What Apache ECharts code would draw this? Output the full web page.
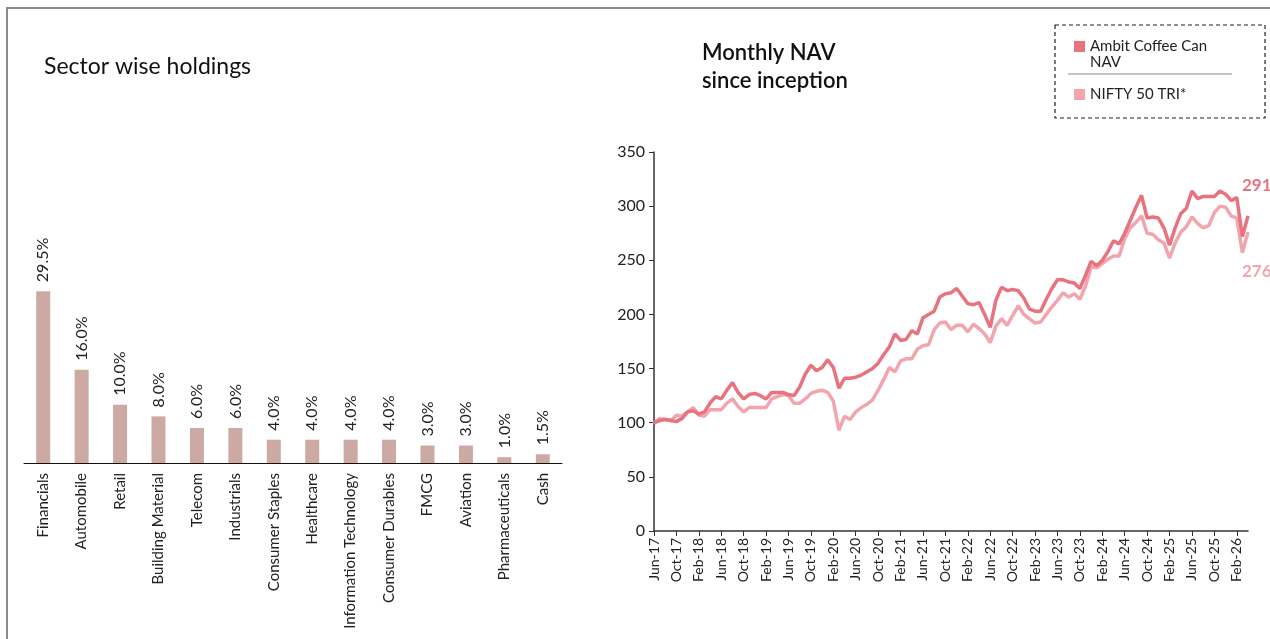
<!DOCTYPE html>
<html lang="en">
<head>
    <meta charset="UTF-8">
    <title>Sector holdings and NAV</title>
    <script src="https://cdn.jsdelivr.net/npm/echarts@6/dist/echarts.min.js"></script>
    <style>
        html, body { margin: 0; padding: 0; background: #fff; overflow: hidden; }
        #frame {
            position: absolute; left: 6px; top: 7px; width: 1300px; height: 700px;
            border-left: 2px solid #8c8c8c; border-top: 2px solid #8c8c8c;
        }
        #main { position: absolute; left: 0; top: 0; width: 1270px; height: 639px; }
    </style>
</head>
<body>
    <div id="frame"></div>
    <div id="main"></div>
    <script type="text/javascript">
        // sector wise holdings (%)
        var sectors = ['Financials', 'Automobile', 'Retail', 'Building Material', 'Telecom', 'Industrials',
            'Consumer Staples', 'Healthcare', 'Information Technology', 'Consumer Durables', 'FMCG',
            'Aviation', 'Pharmaceuticals', 'Cash'];
        var weights = [29.5, 16.0, 10.0, 8.0, 6.0, 6.0, 4.0, 4.0, 4.0, 4.0, 3.0, 3.0, 1.0, 1.5];

        // monthly NAV, Jun-17 .. Apr-26 (rebased to 100)
        var navFund = [100, 102, 103, 102, 101, 104, 110, 111, 108, 110, 118, 124, 122, 130, 137, 128, 122, 126, 127, 125,
            122, 128, 128, 128, 126, 125, 133, 145, 153, 148, 151, 158, 151, 132, 141, 141, 142, 144, 147, 150,
            155, 163, 170, 182, 176, 177, 185, 182, 197, 200, 203, 216, 219, 220, 224, 217, 210, 209, 211, 200,
            188, 213, 225, 222, 223, 222, 215, 205, 203, 203, 214, 224, 232, 232, 230, 229, 224, 236, 249, 245,
            250, 258, 268, 265, 275, 287, 299, 310, 289, 290, 289, 280, 264, 280, 293, 298, 314, 307, 309, 309,
            309, 314, 311, 305, 308, 272, 291];
        var navIndex = [99, 104, 103, 102, 107, 106, 110, 114, 107, 106, 112, 112, 112, 118, 122, 115, 110, 114, 114, 114,
            114, 122, 124, 126, 125, 118, 118, 122, 127, 129, 130, 128, 120, 93, 106, 103, 110, 114, 117, 121,
            130, 140, 151, 147, 157, 159, 159, 168, 171, 172, 186, 192, 193, 186, 190, 190, 184, 191, 187, 182,
            174, 189, 196, 190, 199, 208, 200, 196, 192, 193, 200, 207, 213, 220, 216, 219, 214, 226, 244, 243,
            247, 251, 254, 254, 270, 280, 285, 291, 275, 274, 269, 266, 252, 266, 276, 281, 290, 284, 280, 282,
            294, 300, 299, 291, 289, 257, 276];

        var monthNames = ['Jan', 'Feb', 'Mar', 'Apr', 'May', 'Jun', 'Jul', 'Aug', 'Sep', 'Oct', 'Nov', 'Dec'];
        var months = [];
        for (var i = 0; i < navFund.length; i++) {
            var m = 5 + i;
            months.push(monthNames[m % 12] + '-' + (17 + Math.floor(m / 12)));
        }

        var fundColor = '#e8737f';
        var indexColor = '#f2a5ad';
        var font = 'Lato, "Noto Sans", sans-serif';

        var myChart = echarts.init(document.getElementById('main'));
        myChart.setOption({
            textStyle: { fontFamily: font },
            animation: false,
            title: [{
                text: 'Sector wise holdings',
                left: 39, top: 50,
                textStyle: { fontSize: 23, fontWeight: 'normal', color: '#111', fontFamily: font }
            }, {
                text: 'Monthly NAV\nsince inception',
                left: 697, top: 34,
                textStyle: { fontSize: 22, fontWeight: 600, color: '#111', lineHeight: 28, fontFamily: font }
            }],
            legend: [{
                left: 1069, top: 34,
                itemWidth: 11, itemHeight: 11,
                icon: 'rect',
                data: ['Ambit Coffee Can NAV'],
                formatter: function () { return 'Ambit Coffee Can'; },
                textStyle: { fontSize: 15, color: '#222', fontFamily: font }
            }, {
                left: 1069, top: 82,
                itemWidth: 11, itemHeight: 11,
                icon: 'rect',
                data: ['NIFTY 50 TRI*'],
                textStyle: { fontSize: 15, color: '#222', fontFamily: font }
            }],
            graphic: [{
                type: 'rect',
                shape: { x: 1055, y: 25, width: 210, height: 93 },
                style: { fill: 'none', stroke: '#222', lineWidth: 1.2, lineDash: [4, 3] }
            }, {
                type: 'text',
                left: 1090, top: 55,
                style: { text: 'NAV', fontSize: 15, fill: '#222', fontFamily: font }
            }, {
                type: 'line',
                shape: { x1: 1068, y1: 74, x2: 1232, y2: 74 },
                style: { stroke: '#888', lineWidth: 1 }
            }],
            grid: [
                { left: 24, top: 230, width: 538, height: 233 },
                { left: 654, top: 152, width: 594, height: 379 }
            ],
            xAxis: [{
                type: 'category',
                gridIndex: 0,
                data: sectors,
                axisLine: { lineStyle: { color: '#111', width: 1 } },
                axisTick: { length: 5, lineStyle: { color: '#111' } },
                axisLabel: { rotate: 90, fontSize: 15, color: '#222', margin: 10, interval: 0 }
            }, {
                type: 'category',
                gridIndex: 1,
                data: months,
                boundaryGap: false,
                axisLine: { lineStyle: { color: '#333', width: 1.5 } },
                axisTick: { length: 5, interval: 3, lineStyle: { color: '#333' } },
                axisLabel: { rotate: 90, fontSize: 14, color: '#222', margin: 7, interval: 3 }
            }],
            yAxis: [{
                type: 'value',
                gridIndex: 0,
                min: 0, max: 40,
                show: false
            }, {
                type: 'value',
                gridIndex: 1,
                min: 0, max: 350, interval: 50,
                axisLine: { show: true, lineStyle: { color: '#333', width: 1.5 } },
                axisTick: { show: true, length: 5, lineStyle: { color: '#333' } },
                splitLine: { show: false },
                axisLabel: { fontSize: 16, color: '#222', margin: 9 }
            }],
            series: [{
                type: 'bar',
                xAxisIndex: 0, yAxisIndex: 0,
                data: weights,
                barWidth: 14,
                itemStyle: { color: '#cda9a3' },
                label: {
                    show: true,
                    position: 'top',
                    rotate: 90,
                    align: 'left',
                    verticalAlign: 'middle',
                    distance: 9,
                    fontSize: 16,
                    color: '#222',
                    formatter: function (p) { return p.value.toFixed(1) + '%'; }
                }
            }, {
                name: 'Ambit Coffee Can NAV',
                type: 'line',
                xAxisIndex: 1, yAxisIndex: 1,
                data: navFund,
                symbol: 'none',
                z: 3,
                lineStyle: { color: fundColor, width: 3.5 },
                itemStyle: { color: fundColor },
                endLabel: {
                    show: true,
                    offset: [-14, -30],
                    fontSize: 17, fontWeight: 'bold', color: fundColor,
                    formatter: function (p) { return p.value; }
                }
            }, {
                name: 'NIFTY 50 TRI*',
                type: 'line',
                xAxisIndex: 1, yAxisIndex: 1,
                data: navIndex,
                symbol: 'none',
                z: 2,
                lineStyle: { color: indexColor, width: 3.5 },
                itemStyle: { color: indexColor },
                endLabel: {
                    show: true,
                    offset: [-14, 39],
                    fontSize: 17, fontWeight: 'bold', color: indexColor,
                    formatter: function (p) { return p.value; }
                }
            }]
        });
    </script>
</body>
</html>
